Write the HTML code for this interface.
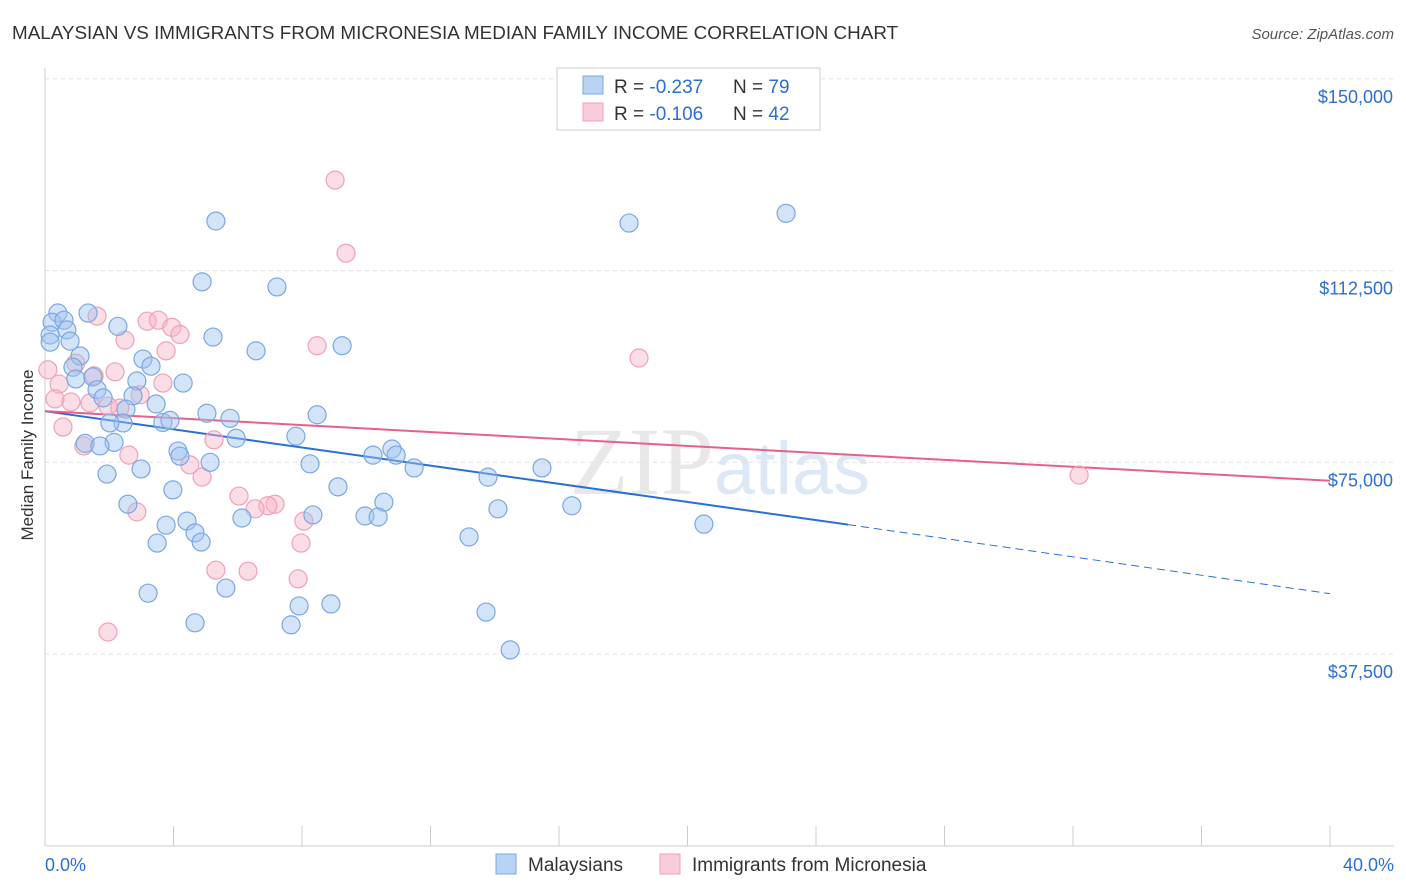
<!DOCTYPE html>
<html><head><meta charset="utf-8">
<style>
body{margin:0;background:#fff;font-family:"Liberation Sans",sans-serif;}
svg{display:block}
</style></head><body>
<svg id="chart" width="1406" height="892" viewBox="0 0 1406 892" xmlns="http://www.w3.org/2000/svg" font-family="Liberation Sans, sans-serif">
<text x="12" y="39" font-size="18.85" fill="#333">MALAYSIAN VS IMMIGRANTS FROM MICRONESIA MEDIAN FAMILY INCOME CORRELATION CHART</text>
<text x="1394" y="39" font-size="15" fill="#555" text-anchor="end" font-style="italic">Source: ZipAtlas.com</text>
<text x="720" y="494" font-size="96" fill="#e8e8e8" text-anchor="middle" font-family="Liberation Serif, serif">ZIP<tspan fill="#dce8f6" font-family="Liberation Sans, sans-serif" font-size="74">atlas</tspan></text>
<text transform="translate(33,455) rotate(-90)" font-size="17" fill="#333" text-anchor="middle">Median Family Income</text>
<g id="grid"></g>
<g id="axes"></g>
<g id="lines"></g>
<g id="points"></g>
<g>
<rect x="557" y="68" width="263" height="62" fill="#fff" stroke="#ccc"/>
<rect x="583" y="76" width="20" height="18" fill="#b9d3f5" stroke="#7aa8e0"/>
<text x="614" y="93" font-size="19" fill="#333">R = <tspan fill="#2a6fd6">-0.237</tspan></text>
<text x="733" y="93" font-size="19" fill="#333">N = <tspan fill="#2a6fd6">79</tspan></text>
<rect x="583" y="103" width="20" height="18" fill="#f9ccd9" stroke="#f0a0b8"/>
<text x="614" y="120" font-size="19" fill="#333">R = <tspan fill="#2a6fd6">-0.106</tspan></text>
<text x="733" y="120" font-size="19" fill="#333">N = <tspan fill="#2a6fd6">42</tspan></text>
</g>
<g>
<rect x="496" y="854" width="20" height="20" fill="#b9d3f5" stroke="#7aa8e0"/>
<text x="528" y="871" font-size="19" fill="#333">Malaysians</text>
<rect x="660" y="854" width="20" height="20" fill="#f9ccd9" stroke="#f0a0b8"/>
<text x="692" y="871" font-size="19" fill="#333">Immigrants from Micronesia</text>
</g>
</svg>
<script>
const blueX=[23.07,18.18,5.32,4.89,7.22,1.34,0.40,0.22,0.59,0.68,0.16,2.27,5.23,9.25,6.57,0.78,1.09,3.05,3.30,0.87,0.96,1.49,2.86,4.30,1.62,1.81,2.74,3.46,2.52,5.04,5.76,8.47,3.67,3.89,2.43,2.02,5.95,7.81,1.25,2.15,1.71,4.14,4.20,10.80,10.21,10.93,5.14,8.25,11.49,15.47,2.99,1.93,13.79,9.12,3.98,10.55,2.58,16.40,14.10,8.34,9.96,10.37,6.13,4.42,3.77,20.51,4.67,13.20,4.86,3.49,5.63,3.21,7.91,8.90,13.73,4.67,7.66,14.48,0.16];
const blueY=[123.7,121.8,122.2,110.3,109.3,104.2,104.2,102.4,102.8,100.9,99.9,101.6,99.5,97.8,96.8,98.7,95.8,95.2,93.8,93.6,91.3,91.7,90.9,90.5,89.2,87.6,88.0,86.4,85.4,84.6,83.6,84.3,82.8,83.2,82.7,82.7,79.7,80.1,78.7,78.9,78.2,77.2,76.2,77.6,76.4,76.4,75.0,74.7,73.9,73.9,73.7,72.7,72.1,70.2,69.6,67.2,66.8,66.5,65.9,64.7,64.5,64.3,64.1,63.5,62.7,62.9,61.2,60.4,59.4,59.2,50.4,49.4,46.9,47.3,45.7,43.6,43.2,38.3,98.5];
const pinkX=[9.03,9.37,1.62,3.18,3.53,3.95,4.20,2.49,8.47,3.77,18.49,0.96,0.09,2.18,1.53,0.44,3.67,2.96,0.31,0.81,1.40,1.96,2.33,0.56,5.26,1.21,2.61,4.51,4.89,32.19,6.04,7.16,6.94,6.54,2.86,8.06,7.97,5.32,6.32,7.88,1.96];
const pinkY=[130.2,115.9,103.6,102.6,102.8,101.4,100.0,98.9,97.8,96.8,95.4,94.4,93.1,92.7,91.9,90.3,90.5,88.2,87.4,86.8,86.6,86.0,85.6,81.9,79.4,78.2,76.4,74.5,72.1,72.5,68.4,66.8,66.5,65.9,65.3,63.5,59.2,53.9,53.7,52.2,41.8];
const yTicks=[37.5,75,112.5,150];
const yTickLabels=["$37,500","$75,000","$112,500","$150,000"];
const xTicks=[0,4,8,12,16,20,24,28,32,36,40];
const blueTrend=[0,85.0,25,62.8,40,49.3];
const pinkTrend=[0,85.0,40,71.4];
const NS="http://www.w3.org/2000/svg";
const sx=v=>45+v/40*1285;
const sy=v=>845.7-v/37.5*191.7;
function mk(t,a,p){const e=document.createElementNS(NS,t);for(const k in a)e.setAttribute(k,a[k]);p.appendChild(e);return e;}
const grid=document.getElementById('grid'),axes=document.getElementById('axes'),lines=document.getElementById('lines'),pts=document.getElementById('points');
yTicks.forEach((v,i)=>{
 const l=mk('line',{x1:45,x2:1394,y1:sy(v),y2:sy(v),stroke:'#e0e0e0','stroke-dasharray':'4,4'},grid);
 
 
 const t=mk('text',{x:1393,y:sy(v)+24,'font-size':18,fill:'#2a6fd6','text-anchor':'end'},axes);
 t.textContent=yTickLabels[i];
 
 
});
const ya=mk('line',{x1:45,x2:45,y1:68,y2:846,stroke:'#ccc'},axes);


const xa=mk('line',{x1:45,x2:1394,y1:846,y2:846,stroke:'#ccc'},axes);


xTicks.forEach(v=>{
 const l=mk('line',{x1:sx(v),x2:sx(v),y1:826,y2:846,stroke:'#ccc'},axes);
 
 
});
[[0,'0.0%','start',45],[40,'40.0%','end',1394]].forEach(a=>{
 const t=mk('text',{x:a[3],y:871,'font-size':18,fill:'#2a6fd6','text-anchor':a[2]},axes);
 t.textContent=a[1];
 
 
});
function dot(x,y,fill,stroke,name){
 const c=mk('circle',{cx:sx(x),cy:sy(y),r:9,fill:fill,stroke:stroke,'stroke-width':1.2},pts);
 
 
}
pinkX.forEach((x,i)=>dot(x,pinkY[i],'rgba(246,180,200,0.45)','#f0a0b8','micronesia-point'));
blueX.forEach((x,i)=>dot(x,blueY[i],'rgba(160,196,240,0.45)','#7aa8e0','malaysian-point'));
const b1=mk('line',{x1:sx(blueTrend[0]),y1:sy(blueTrend[1]),x2:sx(blueTrend[2]),y2:sy(blueTrend[3]),stroke:'#2a6fd6','stroke-width':2},lines);


const b2=mk('line',{x1:sx(blueTrend[2]),y1:sy(blueTrend[3]),x2:sx(blueTrend[4]),y2:sy(blueTrend[5]),stroke:'#2a6fd6','stroke-width':1,'stroke-dasharray':'8,5'},lines);


const p1=mk('line',{x1:sx(pinkTrend[0]),y1:sy(pinkTrend[1]),x2:sx(pinkTrend[2]),y2:sy(pinkTrend[3]),stroke:'#e8608a','stroke-width':2},lines);


</script>
</body></html>
